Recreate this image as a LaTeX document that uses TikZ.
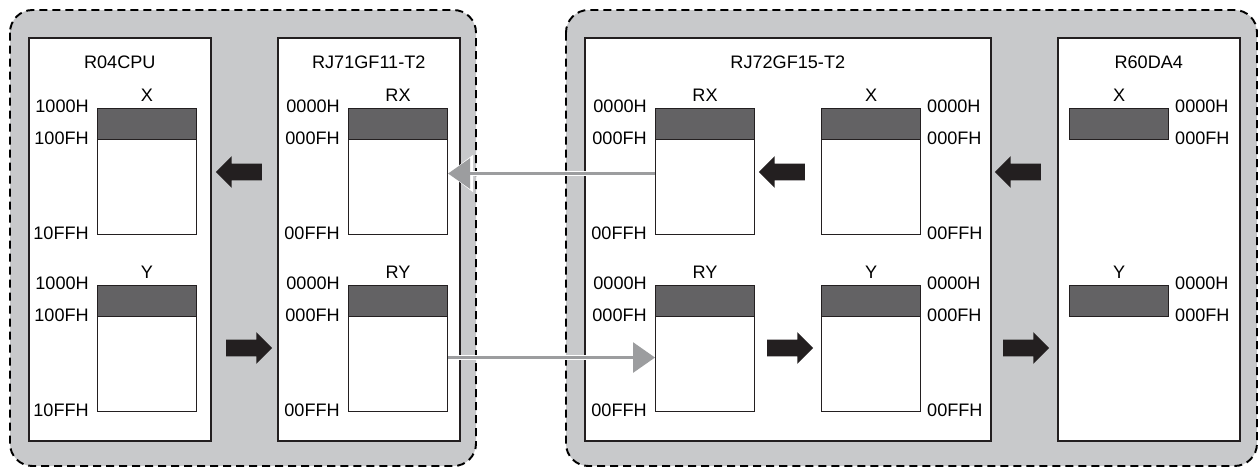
\documentclass[tikz,border=0pt]{standalone}
\usepackage{fontspec}
\setmainfont{Liberation Sans}
\usetikzlibrary{shapes.arrows,positioning,calc}
\usetikzlibrary{arrows.meta}
\definecolor{plcgray}{HTML}{C8C9CB}
\definecolor{regdark}{HTML}{636264}
\definecolor{linkgray}{HTML}{9C9D9F}
\definecolor{inkblk}{HTML}{231F20}
\tikzstyle{station} = [rectangle, rounded corners=0.45cm, draw=black, dash pattern=on 0.16cm off 0.1cm, line width=1.1pt, fill=plcgray]
\tikzstyle{modul} = [rectangle, draw=inkblk, line width=0.9pt, fill=white, anchor=north west, inner sep=0pt]
\tikzstyle{device} = [rectangle, draw=inkblk, line width=0.6pt, fill=white, anchor=north west, inner sep=0pt, minimum width=1.98cm, minimum height=2.52cm]
\tikzstyle{band} = [rectangle, draw=inkblk, line width=0.6pt, fill=regdark, anchor=north west, inner sep=0pt, minimum width=1.98cm, minimum height=0.62cm]
\tikzstyle{flow} = [single arrow, fill=inkblk, inner sep=0.16cm, minimum height=0.92cm, single arrow head extend=0.15cm]
\tikzstyle{link} = [draw=linkgray, line width=0.06cm, -{Triangle[length=0.44cm,width=0.6cm]}]
\tikzstyle{linkedge} = [draw=white, line width=0.1cm, -{Triangle[length=0.5cm,width=0.72cm]}]
\tikzstyle{laddr} = [inner sep=3.3pt, yshift=1.1pt]

\begin{document}
\begin{tikzpicture}[x=0.2mm, y=-0.2mm, font=\fontsize{10.3}{12}\selectfont]
						\useasboundingbox (0,0) rectangle (1260,469);
						% stations
						\draw[station] (10,10) rectangle (476,466);
						\draw[station] (566,10) rectangle (1257,466);
						% modules
						\node[modul, minimum width=3.64cm, minimum height=8.06cm] (cpu) at (28,37) {};
						\node[modul, minimum width=3.64cm, minimum height=8.06cm] (mst) at (277,37) {};
						\node[modul, minimum width=8.12cm, minimum height=8.06cm] (dev) at (584,37) {};
						\node[modul, minimum width=3.64cm, minimum height=8.06cm] (ana) at (1057,37) {};
						\node[below=7pt of cpu.north] {R04CPU};
						\node[below=7pt of mst.north] {RJ71GF11-T2};
						\node[below=7pt of dev.north] {RJ72GF15-T2};
						\node[below=7pt of ana.north] {R60DA4};
						% R04CPU
						\node[device] (xa) at (97,108) {};
						\node[band] (xab) at (xa.north west) {};
						\node[above=0pt of xa] {X};
						\node[laddr, left=1.2pt of xab.north west] {1000H};
						\node[laddr, left=1.2pt of xab.south west] {100FH};
						\node[laddr, left=1.2pt of xa.south west] {10FFH};
						\node[device] (ya) at (97,285) {};
						\node[band] (yab) at (ya.north west) {};
						\node[above=0pt of ya] {Y};
						\node[laddr, left=1.2pt of yab.north west] {1000H};
						\node[laddr, left=1.2pt of yab.south west] {100FH};
						\node[laddr, left=1.2pt of ya.south west] {10FFH};
						% RJ71GF11-T2
						\node[device] (brx) at (348,108) {};
						\node[band] (brxb) at (brx.north west) {};
						\node[above=0pt of brx] {RX};
						\node[laddr, left=1.2pt of brxb.north west] {0000H};
						\node[laddr, left=1.2pt of brxb.south west] {000FH};
						\node[laddr, left=1.2pt of brx.south west] {00FFH};
						\node[device] (bry) at (348,285) {};
						\node[band] (bryb) at (bry.north west) {};
						\node[above=0pt of bry] {RY};
						\node[laddr, left=1.2pt of bryb.north west] {0000H};
						\node[laddr, left=1.2pt of bryb.south west] {000FH};
						\node[laddr, left=1.2pt of bry.south west] {00FFH};
						% RJ72GF15-T2
						\node[device] (crx) at (655,108) {};
						\node[band] (crxb) at (crx.north west) {};
						\node[above=0pt of crx] {RX};
						\node[laddr, left=1.2pt of crxb.north west] {0000H};
						\node[laddr, left=1.2pt of crxb.south west] {000FH};
						\node[laddr, left=1.2pt of crx.south west] {00FFH};
						\node[device] (cry) at (655,285) {};
						\node[band] (cryb) at (cry.north west) {};
						\node[above=0pt of cry] {RY};
						\node[laddr, left=1.2pt of cryb.north west] {0000H};
						\node[laddr, left=1.2pt of cryb.south west] {000FH};
						\node[laddr, left=1.2pt of cry.south west] {00FFH};
						\node[device] (cx) at (821,108) {};
						\node[band] (cxb) at (cx.north west) {};
						\node[above=0pt of cx] {X};
						\node[laddr, right=0pt of cxb.north east] {0000H};
						\node[laddr, right=0pt of cxb.south east] {000FH};
						\node[laddr, right=0pt of cx.south east] {00FFH};
						\node[device] (cy) at (821,285) {};
						\node[band] (cyb) at (cy.north west) {};
						\node[above=0pt of cy] {Y};
						\node[laddr, right=0pt of cyb.north east] {0000H};
						\node[laddr, right=0pt of cyb.south east] {000FH};
						\node[laddr, right=0pt of cy.south east] {00FFH};
						% R60DA4
						\node[band] (dx) at (1069,108) {};
						\node[above=0pt of dx] {X};
						\node[laddr, right=0pt of dx.north east] {0000H};
						\node[laddr, right=0pt of dx.south east] {000FH};
						\node[band] (dy) at (1069,285) {};
						\node[above=0pt of dy] {Y};
						\node[laddr, right=0pt of dy.north east] {0000H};
						\node[laddr, right=0pt of dy.south east] {000FH};
						% refresh arrows
						\node[flow, shape border rotate=180] (ab1) at (243,172) {};
						\node[flow] (ab2) at (245,348) {};
						\node[flow, shape border rotate=180] (cc1) at (786,172) {};
						\node[flow] (cc2) at (786,348) {};
						\node[flow, shape border rotate=180] (cd1) at (1022,172) {};
						\node[flow] (cd2) at (1022,348) {};
						% link scan
						\draw[linkedge] ($(crx.west)+(0,2)$) -- ($(brx.east)+(0,2)$);
						\draw[link] ($(crx.west)+(0,2)$) -- ($(brx.east)+(0,2)$);
						\draw[linkedge] ($(bry.east)+(0,9)$) -- ($(cry.west)+(0,9)$);
						\draw[link] ($(bry.east)+(0,9)$) -- ($(cry.west)+(0,9)$);
					\end{tikzpicture}
\end{document}
